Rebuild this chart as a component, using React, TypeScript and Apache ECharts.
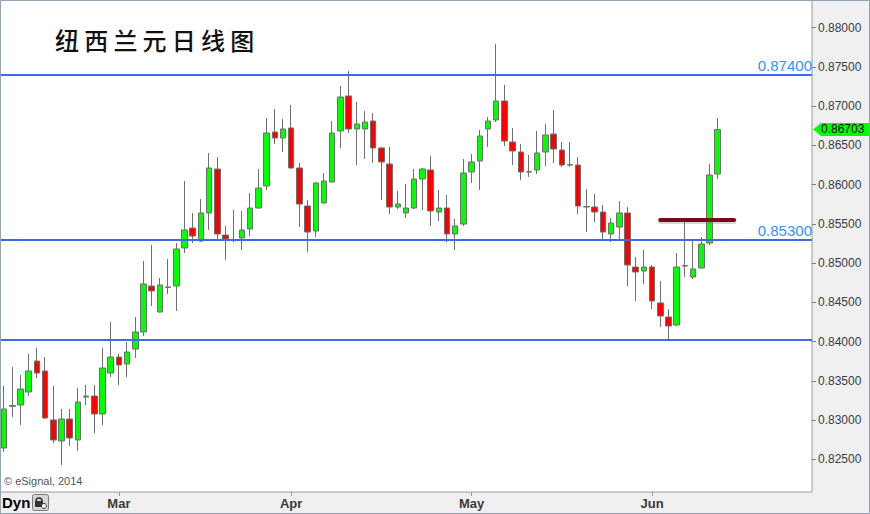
import React, { useEffect, useRef } from "react";
import * as echarts from "echarts";

const dates = [
  "02-11", "02-12", "02-13", "02-14", "02-17", "02-18", "02-19", "02-20", "02-21", "02-24", "02-25", "02-26", "02-27", "02-28",
  "03-03", "03-04", "03-05", "03-06", "03-07", "03-10", "03-11", "03-12", "03-13", "03-14", "03-17", "03-18", "03-19", "03-20", "03-21", "03-24", "03-25", "03-26", "03-27", "03-28", "03-31",
  "04-01", "04-02", "04-03", "04-04", "04-07", "04-08", "04-09", "04-10", "04-11", "04-14", "04-15", "04-16", "04-17", "04-18", "04-21", "04-22", "04-23", "04-24", "04-25", "04-28", "04-29", "04-30",
  "05-01", "05-02", "05-05", "05-06", "05-07", "05-08", "05-09", "05-12", "05-13", "05-14", "05-15", "05-16", "05-19", "05-20", "05-21", "05-22", "05-23", "05-26", "05-27", "05-28", "05-29", "05-30",
  "06-02", "06-03", "06-04", "06-05", "06-06", "06-09", "06-10", "06-11", "06-12",
  "06-13", "06-16", "06-17", "06-18", "06-19", "06-20", "06-23", "06-24", "06-25", "06-26", "06-27",
];

const opens = [
  0.82644, 0.83175, 0.83192, 0.83357, 0.83752, 0.83625, 0.83001, 0.82733, 0.83013, 0.82746, 0.83293, 0.83306, 0.83077, 0.83599,
  0.83803, 0.83714, 0.83905, 0.84122, 0.84708, 0.84377, 0.84696, 0.84708, 0.85193, 0.85447, 0.85282, 0.85639, 0.86199, 0.85358, 0.85294, 0.8532, 0.85435, 0.85702, 0.85983, 0.86671, 0.86594,
  0.86722, 0.86212, 0.85728, 0.85409, 0.85766, 0.86034, 0.86684, 0.8713, 0.86709, 0.86709, 0.86811, 0.86467, 0.86263, 0.85715, 0.85639, 0.85702, 0.86072, 0.86187, 0.85651, 0.85702, 0.85371, 0.85498,
  0.86161, 0.86301, 0.86709, 0.86824, 0.87066, 0.86543, 0.86416, 0.86161, 0.86187, 0.86416, 0.86645, 0.86441, 0.8625, 0.8625, 0.85715, 0.85715, 0.85651, 0.85371, 0.8546, 0.85639, 0.8495, 0.84899,
  0.8495, 0.84492, 0.84313, 0.84211, 0.84963, 0.84823, 0.84938, 0.85256, 0.86136,
];
const closes = [
  0.83141, 0.83185, 0.83396, 0.83625, 0.83599, 0.83026, 0.82746, 0.83013, 0.82771, 0.8323, 0.83306, 0.83077, 0.83663, 0.83803,
  0.83701, 0.83867, 0.84122, 0.84734, 0.84645, 0.84721, 0.8469, 0.8518, 0.85422, 0.85345, 0.85639, 0.86212, 0.85371, 0.85307, 0.8529, 0.85422, 0.85702, 0.85957, 0.86658, 0.86594, 0.86709,
  0.86212, 0.85753, 0.85396, 0.86021, 0.86046, 0.86658, 0.87117, 0.86709, 0.86773, 0.86798, 0.86467, 0.86289, 0.85715, 0.85753, 0.85702, 0.86072, 0.86199, 0.85664, 0.85702, 0.85371, 0.85473, 0.86148,
  0.86289, 0.8662, 0.86811, 0.87066, 0.86556, 0.86429, 0.86161, 0.86165, 0.86403, 0.86633, 0.86454, 0.8625, 0.86255, 0.85728, 0.8572, 0.85651, 0.85396, 0.85511, 0.85639, 0.84976, 0.84887, 0.8495,
  0.84517, 0.84326, 0.84198, 0.8495, 0.84968, 0.84925, 0.85243, 0.86123, 0.86703,
];
const lows = [
  0.82593, 0.83039, 0.82937, 0.83306, 0.83536, 0.83013, 0.82708, 0.82427, 0.82669, 0.82606, 0.83192, 0.82835, 0.82937, 0.83548,
  0.83447, 0.83548, 0.83791, 0.84071, 0.84453, 0.8437, 0.84606, 0.8439, 0.85129, 0.85256, 0.85269, 0.85422, 0.85307, 0.8504, 0.85269, 0.85167, 0.85345, 0.85695, 0.85932, 0.86518, 0.86416,
  0.86205, 0.8546, 0.85142, 0.85333, 0.8576, 0.8603, 0.86467, 0.86658, 0.8625, 0.86327, 0.86276, 0.85804, 0.85626, 0.8569, 0.85575, 0.8569, 0.85677, 0.85473, 0.85537, 0.85269, 0.85167, 0.85473,
  0.86021, 0.85932, 0.8648, 0.86798, 0.86492, 0.8625, 0.86059, 0.86097, 0.86136, 0.86238, 0.86276, 0.86225, 0.86225, 0.85626, 0.85396, 0.85524, 0.85307, 0.85269, 0.85294, 0.84708, 0.84517, 0.84734,
  0.84415, 0.84186, 0.84033, 0.84198, 0.84823, 0.84797, 0.8493, 0.85231, 0.86072,
];
const highs = [
  0.83434, 0.83676, 0.83574, 0.83842, 0.83918, 0.83803, 0.83434, 0.83141, 0.83141, 0.83408, 0.83447, 0.83447, 0.83918, 0.84249,
  0.83842, 0.83995, 0.84313, 0.85027, 0.85231, 0.8481, 0.85052, 0.85256, 0.86046, 0.85639, 0.85817, 0.86403, 0.86352, 0.85473, 0.85677, 0.85664, 0.85893, 0.86199, 0.86849, 0.86964, 0.86836,
  0.87015, 0.86276, 0.85804, 0.86034, 0.86148, 0.86811, 0.87257, 0.87448, 0.87053, 0.86938, 0.86913, 0.8648, 0.8648, 0.85919, 0.86008, 0.86199, 0.86212, 0.86365, 0.85932, 0.85868, 0.85562, 0.86327,
  0.8639, 0.86696, 0.86862, 0.87792, 0.8727, 0.86722, 0.86518, 0.86378, 0.86684, 0.86773, 0.86951, 0.86543, 0.86543, 0.86352, 0.85944, 0.85881, 0.85741, 0.85575, 0.85791, 0.85715, 0.85078, 0.85167,
  0.84976, 0.84772, 0.84415, 0.85129, 0.85537, 0.85294, 0.85333, 0.86263, 0.86849,
];

const yTickValues = [0.825, 0.83, 0.835, 0.84, 0.845, 0.85, 0.855, 0.86, 0.865, 0.87, 0.875, 0.88];
const yMin = 0.82083;
const yMax = 0.88353;
const levelLines = [0.874, 0.853, 0.8402];
const levelLabels = ["0.87400", "0.85300", ""];
const resistanceLevel = 0.8555;
const resistanceShadowLevel = 0.8553;
const resistanceFrom = "06-03";
const resistanceTo = "06-16";
const monthStarts: Record<string, string> = { "03-03": "Mar", "04-01": "Apr", "05-01": "May", "06-02": "Jun" };
const titleText = "纽西兰元日线图";
const lastPrice = 0.86703;

export default function App() {
  const ref = useRef<HTMLDivElement>(null);
  useEffect(() => {
    const chart = echarts.init(ref.current!, null, { renderer: "svg" });
    const candles = opens.map((o, i) => [o, closes[i], lows[i], highs[i]]);
    const isMonth = (_i: number, v: string) => Object.prototype.hasOwnProperty.call(monthStarts, v);
    const rFrom = dates.indexOf(resistanceFrom);
    const rTo = dates.indexOf(resistanceTo);
    const resistanceData = dates.map((_d, i) => (i >= rFrom && i <= rTo ? resistanceLevel : null));
    const shadowData = dates.map((_d, i) => (i >= rFrom && i <= rTo ? resistanceShadowLevel : null));

    chart.setOption({
      animation: false,
      backgroundColor: "#f0f0f0",
      grid: {
        left: -2,
        right: 58,
        top: 0,
        bottom: 22,
        show: true,
        backgroundColor: "#ffffff",
        borderColor: "#9a9a9a",
        borderWidth: 1,
      },
      xAxis: {
        type: "category",
        data: dates,
        boundaryGap: true,
        axisLine: { show: false },
        splitLine: { show: false },
        axisTick: { show: true, alignWithLabel: true, interval: isMonth, length: 4, lineStyle: { color: "#999" } },
        axisLabel: {
          interval: isMonth,
          formatter: (v: string) => monthStarts[v] || "",
          color: "#3a3a3a",
          fontSize: 13,
          fontWeight: "bold",
          fontFamily: "'Liberation Sans Narrow', 'Liberation Sans', Arial, sans-serif",
          margin: 5,
        },
      },
      yAxis: {
        type: "value",
        position: "right",
        min: yMin,
        max: yMax,
        scale: true,
        axisLine: { show: false },
        splitLine: { show: false },
        axisTick: { show: true, inside: false, length: 4, lineStyle: { color: "#808080" }, customValues: yTickValues },
        axisLabel: {
          customValues: yTickValues,
          formatter: (v: number) => v.toFixed(5),
          color: "#3b3b48",
          fontSize: 12,
          fontFamily: "'Liberation Sans', Arial, sans-serif",
          margin: 6,
        },
      },
      series: [
        {
          type: "candlestick",
          data: candles,
          barWidth: 6,
          z: 3,
          itemStyle: {
            color: "#00ff00",
            color0: "#ff0000",
            borderColor: "#6f6f6f",
            borderColor0: "#6f6f6f",
            borderWidth: 1,
          },
          markLine: {
            silent: true,
            symbol: ["none", "none"],
            precision: 5,
            animation: false,
            data: levelLines.map((v, i) => ({
              yAxis: v,
              lineStyle: { color: "#4169e1", width: 2, type: "solid" },
              label: {
                show: !!levelLabels[i],
                formatter: levelLabels[i],
                position: "insideEndTop",
                color: "#2e95ff",
                fontSize: 15,
                fontFamily: "'Liberation Sans', Arial, sans-serif",
                distance: [0, 2],
              },
            })),
          },
        },
        {
          type: "line",
          data: shadowData,
          showSymbol: false,
          symbol: "none",
          connectNulls: false,
          silent: true,
          z: 4,
          lineStyle: { color: "rgba(120,120,120,0.3)", width: 5, cap: "round" },
        },
        {
          type: "line",
          data: resistanceData,
          showSymbol: false,
          symbol: "none",
          connectNulls: false,
          silent: true,
          z: 5,
          lineStyle: { color: "#7a0a16", width: 4, cap: "round" },
        },
      ],
    });

    const py = chart.convertToPixel({ yAxisIndex: 0 }, lastPrice) as number;
    const chars = Array.from(titleText);
    chart.setOption({
      graphic: [
        ...chars.map((ch, k) => ({
          type: "text",
          id: "t" + k,
          left: 55 + k * 29.2,
          top: 27,
          style: {
            text: ch,
            fontSize: 24,
            fontWeight: 500,
            fontFamily: "'Noto Sans CJK SC', sans-serif",
            fill: "#111",
          },
        })),
        {
          type: "text",
          id: "copy",
          left: 4,
          top: 475,
          style: { text: "© eSignal, 2014", fontSize: 11, fill: "#555", fontFamily: "'Liberation Sans', Arial, sans-serif" },
        },
        {
          type: "text",
          id: "dyn",
          left: 2,
          top: 495,
          style: { text: "Dyn", fontSize: 15, fontWeight: "bold", fill: "#000", fontFamily: "'Liberation Sans Narrow', 'Liberation Sans', Arial, sans-serif" },
        },
        {
          type: "rect",
          id: "btn",
          shape: { x: 32.5, y: 494.5, width: 16, height: 16, r: 2 },
          style: { fill: "#d6d6d6", stroke: "#7a7a7a", lineWidth: 1 },
        },
        {
          type: "arc",
          id: "lockArc",
          shape: { cx: 39, cy: 501, r: 3, startAngle: Math.PI, endAngle: 2 * Math.PI },
          style: { stroke: "#333", lineWidth: 1.5, fill: "none" },
        },
        {
          type: "rect",
          id: "lockBody",
          shape: { x: 35, y: 501, width: 8, height: 6 },
          style: { fill: "#333" },
        },
        {
          type: "circle",
          id: "lockClock",
          shape: { cx: 44, cy: 506, r: 2.5 },
          style: { fill: "#fff", stroke: "#333", lineWidth: 1 },
        },
        {
          type: "polygon",
          id: "tag",
          shape: {
            points: [
              [813, py],
              [821, py - 6.5],
              [870, py - 6.5],
              [870, py + 6.5],
              [821, py + 6.5],
            ],
          },
          style: { fill: "#00ff00" },
          z: 10,
        },
        {
          type: "text",
          id: "tagText",
          x: 821,
          y: py,
          style: {
            text: lastPrice.toFixed(5),
            fontSize: 12,
            fill: "#000",
            verticalAlign: "middle",
            fontFamily: "'Liberation Sans', Arial, sans-serif",
          },
          z: 11,
        },
        {
          type: "rect",
          id: "outer",
          shape: { x: 0.5, y: 0.5, width: 869, height: 513 },
          style: { fill: "none", stroke: "#94a3b4", lineWidth: 1 },
          z: 20,
        },
      ],
    });

    return () => chart.dispose();
  }, []);
  return <div ref={ref} style={{ position: "fixed", left: 0, top: 0, width: 870, height: 514 }} />;
}
